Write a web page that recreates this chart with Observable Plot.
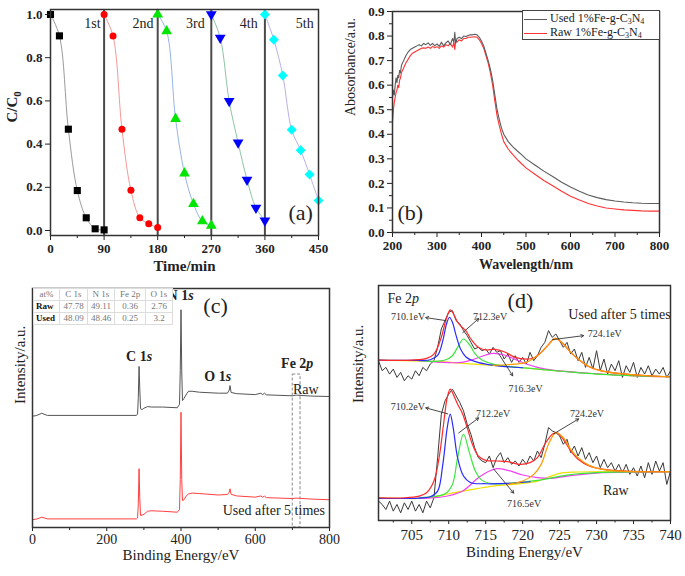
<!DOCTYPE html>
<html><head><meta charset="utf-8">
<script src="https://cdn.jsdelivr.net/npm/d3@7"></script>
<script src="https://cdn.jsdelivr.net/npm/@observablehq/plot@0.6"></script>
<style>
body{margin:0;background:#fff;}
#wrap{position:relative;width:685px;height:576px;overflow:hidden;font-family:"Liberation Serif","Times New Roman",serif;background:#fff;}
#tbl{position:absolute;left:33px;top:288px;width:134px;table-layout:fixed;border-collapse:collapse;font-size:9px;color:#777;background:#fff;}
#tbl td{border:1px solid #ddd;padding:0;height:11px;line-height:11px;text-align:center;white-space:nowrap;overflow:hidden;}
#tbl td.rh{color:#111;font-weight:bold;text-align:left;padding-left:2px;}
#legB{position:absolute;left:522px;top:10px;width:136px;height:28px;border:1px solid #444;background:#fff;font-size:12px;color:#222;}
#legB .row{position:absolute;left:0;height:12px;line-height:12px;white-space:nowrap;}
#legB .sw{display:inline-block;width:23px;height:0;vertical-align:middle;margin:0 3px 0 1px;}
#legB sub{font-size:8px;line-height:0;vertical-align:-2px;}
</style></head><body><div id="wrap"></div>
<script>
// ---------------- DATA ----------------
// (a) cycling test
const cycleLabels = ["1st","2nd","3rd","4th","5th"];
const cycleBoundaries = [90,180,270,360];
const cycleTimes = [
  [0,15,30,45,60,75,90],
  [90,105,120,135,150,165,180],
  [180,195,210,225,240,255,270],
  [270,285,300,315,330,345,360],
  [360,375,390,405,420,435,450]
];
const cycleValues = [
  [1.0,0.901,0.469,0.185,0.059,0.008,0.003],
  [1.0,0.90,0.469,0.187,0.059,0.031,0.014],
  [1.0,0.923,0.517,0.265,0.123,0.043,0.023],
  [1.0,0.892,0.599,0.407,0.235,0.105,0.046],
  [1.0,0.883,0.718,0.466,0.372,0.259,0.139]
];
const timeTicks = [0,90,180,270,360,450];

// (b) UV-vis absorbance
const wavelength = [200,202,204,206,208,210,212,214,216,218,220,
  225,230,235,240,245,250,255,260,265,270,275,280,285,290,295,300,305,310,315,320,325,330,335,
  338,340,342,
  345,350,355,360,365,370,375,380,385,390,395,400,405,410,415,420,425,430,435,440,445,450,
  460,470,480,490,500,
  520,540,560,580,600,620,640,660,680,700,720,740,760,780,800];
const absUsed = [0.55,0.58,0.56,0.60,0.63,0.61,0.64,0.63,0.66,0.65,0.68,
  0.70,0.72,0.735,0.745,0.75,0.755,0.76,0.765,0.76,0.77,0.765,0.772,0.762,0.77,0.76,0.768,0.758,0.775,0.76,0.772,0.78,0.765,0.79,
  0.775,0.815,0.77,
  0.79,0.795,0.79,0.80,0.798,0.802,0.805,0.805,0.807,0.805,0.795,0.78,0.76,0.73,0.70,0.665,0.62,0.56,0.50,0.46,0.425,0.40,
  0.37,0.35,0.333,0.317,0.30,
  0.275,0.25,0.228,0.205,0.185,0.168,0.153,0.142,0.134,0.128,0.124,0.121,0.119,0.118,0.118];
const absRaw = [0.45,0.50,0.53,0.55,0.57,0.58,0.60,0.59,0.62,0.63,0.65,
  0.67,0.69,0.705,0.72,0.73,0.735,0.74,0.745,0.75,0.752,0.75,0.755,0.75,0.758,0.752,0.757,0.75,0.76,0.755,0.765,0.76,0.77,0.755,
  0.775,0.745,0.78,
  0.775,0.785,0.78,0.79,0.79,0.795,0.795,0.796,0.797,0.795,0.785,0.77,0.75,0.72,0.69,0.65,0.60,0.535,0.475,0.435,0.40,0.37,
  0.34,0.318,0.298,0.28,0.263,
  0.237,0.212,0.19,0.168,0.148,0.132,0.118,0.108,0.100,0.096,0.092,0.09,0.088,0.087,0.087];
const legendB = ["Used 1%Fe-g-C3N4","Raw 1%Fe-g-C3N4"];

// (c) XPS survey
const bindingEnergyC = [0,10,25,40,280,283,285,287,289,291,295,300,310,320,350,390,396,398,400,402,404,408,415,420,430,450,500,525,530,532,535,550,600,615,620,625,630,700,710,750,800];
const surveyRaw  = [46.6,46.8,47.8,46.9,46.9,47.5,54.5,67.4,58,49.7,49.3,49.9,50.6,50.4,50.4,50.1,51.5,65.7,91.1,65.5,53.1,54,55.9,57.0,57.0,56.6,56.2,56.2,57.5,59.4,56.5,56.0,55.6,56.2,55.6,56.2,55.5,55.1,55.4,55.0,54.8];
const surveyUsed = [3.3,3.5,4.3,3.6,3.6,4.0,9.9,24.6,12,5.0,5.2,5.5,6.8,7.0,6.8,6.4,7.5,20,48.2,20,11.3,11.6,13.4,14.0,14.4,14.2,13.6,13.8,14.8,16.2,13.9,13.2,12.7,13.2,12.7,13.1,12.5,12.1,12.3,11.9,11.6];
const tableHeader = ["at%","C 1s","N 1s","Fe 2p","O 1s"];
const compositionRaw  = [47.78,49.11,0.36,2.76];
const compositionUsed = [48.09,48.46,0.25,3.2];

// (d) Fe 2p high-resolution
const bindingEnergyD = [700.5,701,701.5,702,702.5,703,703.5,704,704.5,705,705.5,706,706.5,707,707.5,708,708.5,709,709.5,710,
  710.5,711,711.5,712,712.5,713,713.5,714,714.5,715,715.5,716,716.5,717,717.5,718,718.5,719,719.5,720,
  720.5,721,721.5,722,722.5,723,723.5,724,724.5,725,725.5,726,726.5,727,727.5,728,728.5,729,729.5,730,
  730.5,731,731.5,732,732.5,733,733.5,734,734.5,735,735.5,736,736.5,737,737.5,738,738.5,739,739.5,740];
const fe2pUsed = [480,450,460,440,455,430,445,420,435,425,450,435,460,450,470,480,520,575,600,625,
  630,600,590,570,555,535,515,520,510,515,500,520,505,510,485,500,475,495,475,490,
  470,505,480,495,520,535,570,550,560,540,520,535,500,515,480,505,460,490,455,510,
  450,485,440,470,450,480,430,465,445,475,430,460,440,465,435,455,440,460,430,450];
const fe2pRaw = [60,50,35,60,30,50,25,55,35,60,30,50,25,60,40,70,190,320,360,380,
  395,375,355,330,290,260,220,190,180,175,195,160,190,205,175,190,170,180,165,185,
  170,195,180,210,190,230,280,270,265,255,230,245,205,225,195,220,185,205,175,195,
  160,185,160,175,150,170,145,170,140,160,135,165,130,175,140,180,150,175,110,150];
// fitted components, [binding energy, intensity]
const usedEnvelope = [[700.5,482],[705,482],[707,487],[708,500],[709,550],[709.6,600],[710.2,632],[710.6,622],[711.2,595],[711.8,580],[712.3,570],[713,545],[714,520],[715,512],[716.2,514],[717.5,507],[719,490],[720.5,485],[721.5,488],[722.5,505],[723.5,528],[724.4,547],[725.5,530],[726.5,505],[727.5,485],[729,462],[731,448],[734,440],[737,435],[740,432]];
const usedBackground = [[700.5,482],[708,478],[712,472],[716,466],[720,459],[724,451],[728,444],[732,438],[736,434],[740,432]];
const usedPeak7101 = [[700.5,482],[706,481],[707.5,483],[708.5,496],[709.2,540],[709.7,590],[710.1,610],[710.5,595],[711,555],[711.6,515],[712.3,492],[713.5,478],[715,470],[717,464],[720,459]];
const usedPeak7123 = [[706,480],[708,478],[709.5,482],[710.5,495],[711.2,520],[712,545],[712.8,528],[713.6,500],[714.5,482],[716,470],[718,463],[722,455],[726,447],[730,440],[734,436],[740,432]];
const usedPeak7163 = [[706,480],[710,474],[712,476],[713.5,485],[715,497],[716,502],[717.5,497],[719,484],[720.5,470],[722,460],[724,452],[728,444],[732,438],[736,434],[740,432]];
const usedPeak7241 = [[716,466],[719,470],[720.5,475],[721.5,487],[722.5,505],[723.5,528],[724.4,547],[725.5,530],[726.5,505],[727.5,485],[729,462],[731,448],[734,440],[737,435],[740,432]];
const rawEnvelope = [[700.5,70],[704,70],[706,75],[707,85],[708,120],[708.7,190],[709.3,290],[709.8,370],[710.2,395],[710.6,380],[711.2,350],[711.8,325],[712.5,280],[713.2,230],[714,195],[715,182],[716.5,180],[718,178],[719.5,170],[721,175],[722,190],[723,230],[724,260],[724.6,265],[725.5,245],[726.5,210],[727.5,185],[729,165],[731,155],[734,150],[740,148]];
const rawBackground = [[700.5,70],[706,68],[708,72],[710,82],[712,90],[714,98],[716,105],[718,109],[720,113],[722,120],[723.5,132],[725,143],[727,147],[740,148]];
const rawPeak7102 = [[700.5,68],[706,69],[707.5,73],[708.5,90],[709.2,170],[709.8,280],[710.2,320],[710.6,280],[711.2,190],[712,135],[713,115],[715,112],[718,113],[721,118]];
const rawPeak7122 = [[706,70],[708,74],[709.5,82],[710.5,110],[711.2,190],[712,260],[712.8,205],[713.6,150],[714.5,122],[716,112],[718,113],[722,122],[726,138],[730,145],[740,148]];
const rawPeak7165 = [[706,68],[708,70],[710,76],[712,92],[714,130],[715.5,150],[716.5,157],[718,152],[720,138],[722,130],[724,128],[726,135],[730,144],[735,147],[740,148]];
const rawPeak7242 = [[718,110],[720,120],[721.5,140],[722.5,170],[723.5,230],[724.5,265],[725.5,250],[726.5,215],[727.5,190],[729,167],[731,154],[734,149],[740,148]];
const peakLabelsD = ["710.1eV","712.3eV","716.3eV","724.1eV","710.2eV","712.2eV","716.5eV","724.2eV"];

// ---------------- STYLE / LAYOUT ----------------
const serif = "'Liberation Serif','Times New Roman',serif";
const lineColorsA = ["#9a9a9a","#f29a9a","#96b4e6","#8fc4a4","#bcaee6"];
const dotColorsA = ["#000000","#ff0000","#00e600","#0000ff","#00ffff"];
const symbolsA = ["square","circle","triangle","triangle","square"];
const rotateA = [0,0,0,180,45];
const labelXA = [84,173,259,348,442];
// annotation layout for (d): text position and arrow (from peak to text)
const annD = [
  {tx:704.5,ty:612,x1:709.6,y1:600,x2:706.9,y2:609},
  {tx:715.6,ty:612,x1:711.9,y1:564,x2:714.05,y2:606},
  {tx:720.4,ty:396,x1:716.76,y1:501,x2:718.65,y2:435},
  {tx:731.1,ty:561,x1:724.05,y1:543,x2:728.24,y2:555},
  {tx:704.46,ty:342,x1:709.86,y1:321,x2:706.9,y2:339},
  {tx:716.0,ty:321,x1:711.35,y1:264,x2:714.05,y2:309},
  {tx:720.2,ty:51,x1:716.08,y1:156,x2:718.78,y2:84},
  {tx:728.7,ty:321,x1:724.19,y1:261,x2:727.57,y2:306}
];

const W = document.getElementById("wrap");
function place(el, left, top){ el.style.position="absolute"; el.style.left=left+"px"; el.style.top=top+"px"; W.appendChild(el); }
function rich(svg, map){ svg.querySelectorAll("text").forEach(t=>{ const k=t.textContent; if(map[k]!==undefined) t.innerHTML = map[k]; }); }
const txt = d => d;

// ---------------- (a) ----------------
const marksA = [Plot.ruleX(cycleBoundaries, {stroke:"#4a4a4a", strokeWidth:2})];
cycleLabels.forEach((lab, i) => {
  const rows = cycleTimes[i].map((t, j) => ({t, c: cycleValues[i][j]}));
  marksA.push(Plot.line(rows, {x:"t", y:"c", stroke: lineColorsA[i], strokeWidth:1, curve:"catmull-rom"}));
  marksA.push(Plot.dot(rows, {x:"t", y:"c", symbol: symbolsA[i], fill: dotColorsA[i], stroke:"none", r: i===1 ? 3.5 : 4, rotate: rotateA[i]}));
});
marksA.push(
  Plot.text(cycleLabels, {x:(d,i)=>labelXA[i], y:0.958, text:txt, textAnchor:"end", fontWeight:"normal", fontSize:14}),
  Plot.text(["(a)"], {x:420, y:0.083, text:txt, fontWeight:"normal", fontSize:22}),
  Plot.axisX(timeTicks, {tickSize:5, tickPadding:3, label:null}),
  Plot.axisX([45,135,225,315,405], {tickSize:3, tickFormat:()=>"", label:null}),
  Plot.axisY([0,0.2,0.4,0.6,0.8,1.0], {tickSize:5, tickPadding:3, tickFormat:d3.format(".1f"), label:null}),
  Plot.text(["Time/min"], {frameAnchor:"bottom", dy:35, text:txt, fontSize:15}),
  Plot.text(["C/C0"], {frameAnchor:"left", dx:-38, rotate:-90, text:txt, fontSize:15}),
  Plot.frame({stroke:"#333", strokeWidth:1.5})
);
const plotA = Plot.plot({
  width:340, height:280, marginLeft:50, marginRight:22, marginTop:9, marginBottom:45,
  x:{domain:[0,450]}, y:{domain:[-0.023,1.023]},
  style:{fontFamily:serif, fontSize:"13px", fontWeight:"bold", color:"#222", background:"transparent", overflow:"visible"},
  marks: marksA
});
rich(plotA, {"C/C0":'C/C<tspan dy="4" font-size="11">0</tspan>'});
place(plotA, 0, 0);

// ---------------- (b) ----------------
const rowsB = wavelength.map((w, i) => ({w, used: absUsed[i], raw: absRaw[i]}));
const plotB = Plot.plot({
  width:345, height:280, marginLeft:52, marginRight:26, marginTop:11, marginBottom:48,
  x:{domain:[200,800]}, y:{domain:[0,0.9]},
  style:{fontFamily:serif, fontSize:"13px", fontWeight:"bold", color:"#222", background:"transparent", overflow:"visible"},
  marks:[
    Plot.line(rowsB, {x:"w", y:"raw", stroke:"#ff3333", strokeWidth:1.1}),
    Plot.line(rowsB, {x:"w", y:"used", stroke:"#5c5c5c", strokeWidth:1.1}),
    Plot.text(["(b)"], {x:240, y:0.081, text:txt, fontWeight:"normal", fontSize:22}),
    Plot.axisX([200,300,400,500,600,700,800], {tickSize:5, tickPadding:3, label:null}),
    Plot.axisX([250,350,450,550,650,750], {tickSize:3, tickFormat:()=>"", label:null}),
    Plot.axisY([0,0.1,0.2,0.3,0.4,0.5,0.6,0.7,0.8,0.9], {tickSize:5, tickPadding:3, tickFormat:d3.format(".1f"), label:null}),
    Plot.axisY([0.05,0.15,0.25,0.35,0.45,0.55,0.65,0.75,0.85], {tickSize:3, tickFormat:()=>"", label:null}),
    Plot.text(["Wavelength/nm"], {frameAnchor:"bottom", dy:36, text:txt, fontSize:14}),
    Plot.text(["Abosorbance/a.u."], {frameAnchor:"left", dx:-42, dy:-6, rotate:-90, text:txt, fontSize:14, fontWeight:"normal"}),
    Plot.frame({stroke:"#333", strokeWidth:1.5})
  ]
});
place(plotB, 340, 0);
// legend (b)
const leg = document.createElement("div"); leg.id = "legB";
const legColors = ["#5c5c5c","#ff3333"];
legendB.forEach((s, i) => {
  const r = document.createElement("div"); r.className = "row"; r.style.top = (i===0 ? 1 : 15) + "px";
  const html = s.replace("C3N4", "C<sub>3</sub>N<sub>4</sub>");
  r.innerHTML = `<span class="sw" style="border-top:1.5px solid ${legColors[i]}"></span>${html}`;
  leg.appendChild(r);
});
W.appendChild(leg);

// ---------------- (c) ----------------
const rowsC = bindingEnergyC.map((e, i) => ({e, raw: surveyRaw[i], used: surveyUsed[i]}));
const plotC = Plot.plot({
  width:340, height:296, marginLeft:32, marginRight:11, marginTop:8, marginBottom:49,
  x:{domain:[0,800]}, y:{domain:[0,100], axis:null},
  style:{fontFamily:serif, fontSize:"14px", color:"#222", background:"transparent", overflow:"visible"},
  marks:[
    Plot.rect([0], {x1:701, x2:722, y1:0, y2:64, fill:"none", stroke:"#888", strokeDasharray:"3,2", strokeWidth:1}),
    Plot.line(rowsC, {x:"e", y:"raw", stroke:"#555", strokeWidth:1}),
    Plot.line(rowsC, {x:"e", y:"used", stroke:"#ff4040", strokeWidth:1}),
    Plot.text(["C 1s"], {x:287, y:71.5, text:txt, fontWeight:"bold", fontSize:14}),
    Plot.text(["N 1s"], {x:399, y:97.2, text:txt, fontWeight:"bold", fontSize:14}),
    Plot.text(["O 1s"], {x:499, y:63.2, text:txt, fontWeight:"bold", fontSize:14}),
    Plot.text(["Fe 2p"], {x:713, y:68.6, text:txt, fontWeight:"bold", fontSize:14}),
    Plot.text(["Raw"], {x:736, y:57.7, text:txt, fontSize:14}),
    Plot.text(["Used after 5 times"], {x:650, y:7.1, text:txt, fontSize:14}),
    Plot.text(["(c)"], {x:493, y:92.9, text:txt, fontSize:22}),
    Plot.axisX([0,200,400,600,800], {tickSize:4, tickPadding:3, label:null}),
    Plot.axisX([100,300,500,700], {tickSize:3, tickFormat:()=>"", label:null}),
    Plot.text(["Binding Energy/eV"], {frameAnchor:"bottom", dy:32, text:txt, fontSize:15}),
    Plot.text(["Intensity/a.u."], {frameAnchor:"left", dx:-12, dy:-4, rotate:-90, text:txt, fontSize:15}),
    Plot.frame({stroke:"#333", strokeWidth:1.5})
  ]
});
rich(plotC, {
  "C 1s":'C 1<tspan font-style="italic">s</tspan>',
  "N 1s":'N 1<tspan font-style="italic">s</tspan>',
  "O 1s":'O 1<tspan font-style="italic">s</tspan>',
  "Fe 2p":'Fe 2<tspan font-style="italic">p</tspan>'
});
place(plotC, 0, 280);
// composition table
const tbl = document.createElement("table"); tbl.id = "tbl";
const colW = [25,27,26,30,26];
let h = "<tr>" + tableHeader.map((s,i)=>`<td style="width:${colW[i]}px">${s}</td>`).join("") + "</tr>";
h += `<tr><td class="rh">Raw</td>` + compositionRaw.map(v=>`<td>${v}</td>`).join("") + "</tr>";
h += `<tr><td class="rh">Used</td>` + compositionUsed.map(v=>`<td>${v}</td>`).join("") + "</tr>";
tbl.innerHTML = h; W.appendChild(tbl);

// ---------------- (d) ----------------
const rowsD = bindingEnergyD.map((e, i) => ({e, used: fe2pUsed[i], raw: fe2pRaw[i]}));
const fitLine = (arr, color) => Plot.line(arr, {x:d=>d[0], y:d=>d[1], stroke:color, strokeWidth:1.2, curve:"catmull-rom"});
const cY = "#efe000", cM = "#f040f0", cG = "#3ce63c", cB = "#2b2bff", cR = "#ff2a2a", cO = "#ff9a00";
const plotD = Plot.plot({
  width:345, height:296, marginLeft:38, marginRight:15, marginTop:5, marginBottom:56,
  x:{domain:[700.5,740]}, y:{domain:[2,705], axis:null},
  style:{fontFamily:serif, fontSize:"15px", color:"#222", background:"transparent", overflow:"visible"},
  marks:[
    Plot.line(rowsD, {x:"e", y:"used", stroke:"#3a3a3a", strokeWidth:1}),
    Plot.line(rowsD, {x:"e", y:"raw", stroke:"#3a3a3a", strokeWidth:1}),
    fitLine(usedBackground, cY), fitLine(usedPeak7163, cM), fitLine(usedPeak7123, cG), fitLine(usedPeak7101, cB),
    fitLine(usedEnvelope, cR), fitLine(usedPeak7241, cO),
    fitLine(rawBackground, cY), fitLine(rawPeak7165, cM), fitLine(rawPeak7122, cG), fitLine(rawPeak7102, cB),
    fitLine(rawEnvelope, cR), fitLine(rawPeak7242, cO),
    Plot.arrow(annD, {x1:"x1", y1:"y1", x2:"x2", y2:"y2", stroke:"#333", strokeWidth:0.9, headLength:5}),
    Plot.text(annD, {x:"tx", y:"ty", text:(d,i)=>peakLabelsD[i], fontSize:10, fill:"#333"}),
    Plot.text(["Fe 2p"], {x:703.85, y:666, text:txt, fontSize:14}),
    Plot.text(["(d)"], {x:719.7, y:660, text:txt, fontSize:22}),
    Plot.text(["Used after 5 times"], {x:733.1, y:618, text:txt, fontSize:14}),
    Plot.text(["Raw"], {x:732.6, y:93, text:txt, fontSize:14}),
    Plot.axisX([705,710,715,720,725,730,735,740], {tickSize:4, tickPadding:5, label:null}),
    Plot.axisX([702.5,707.5,712.5,717.5,722.5,727.5,732.5,737.5], {tickSize:2.5, tickFormat:()=>"", label:null}),
    Plot.text(["Binding Energy/eV"], {frameAnchor:"bottom", dy:36, text:txt, fontSize:15}),
    Plot.text(["Intensity/a.u."], {frameAnchor:"left", dx:-20, rotate:-90, text:txt, fontSize:15}),
    Plot.frame({stroke:"#333", strokeWidth:1.5})
  ]
});
rich(plotD, {"Fe 2p":'Fe 2<tspan font-style="italic">p</tspan>'});
place(plotD, 340, 280);
</script>
</body></html>
